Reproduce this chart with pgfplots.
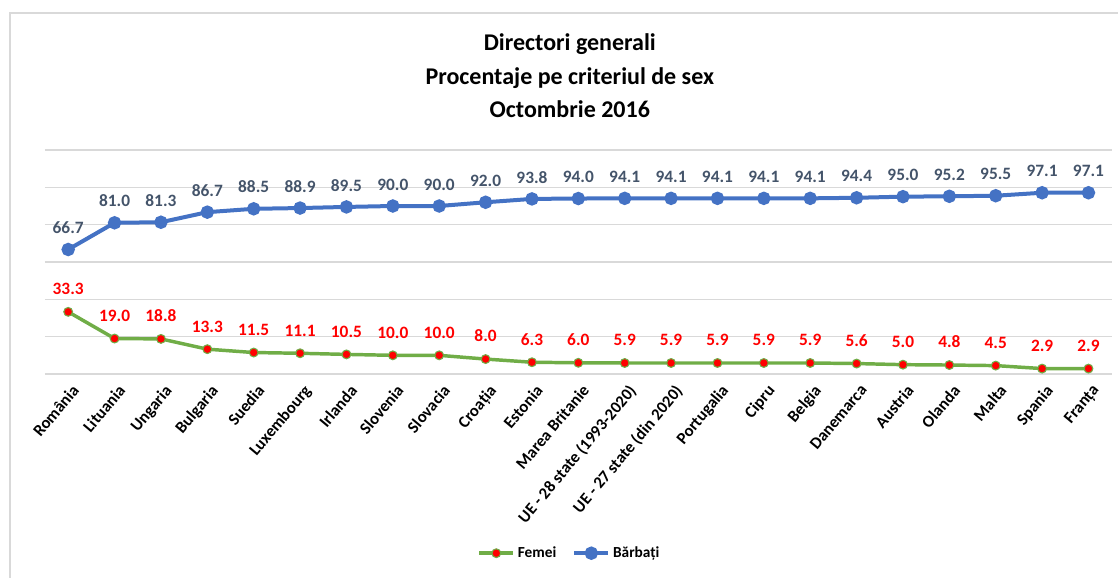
\documentclass[border=0pt]{standalone}
\usepackage{pgfplots}
\pgfplotsset{compat=1.18}
\usepackage{pgfplotstable}
\usepackage{fontspec}
\setmainfont{Carlito}

\definecolor{barbati}{HTML}{4472C4}
\definecolor{femei}{HTML}{70AD47}
\definecolor{lblblue}{HTML}{44546A}
\definecolor{gridc}{HTML}{D9D9D9}

% idx: order of the categories on the x axis
\pgfplotstableread{
idx fem barb
0  33.3 66.7
1  19.0 81.0
2  18.8 81.3
3  13.3 86.7
4  11.5 88.5
5  11.1 88.9
6  10.5 89.5
7  10.0 90.0
8  10.0 90.0
9  8.0  92.0
10 6.3  93.8
11 6.0  94.0
12 5.9  94.1
13 5.9  94.1
14 5.9  94.1
15 5.9  94.1
16 5.9  94.1
17 5.6  94.4
18 5.0  95.0
19 4.8  95.2
20 4.5  95.5
21 2.9  97.1
22 2.9  97.1
}\data

\begin{document}
\begin{tikzpicture}
\path[use as bounding box] (-33.75pt,-153pt) rectangle (804.75pt,280.5pt);
% chart frame
\draw[gridc, line width=0.8pt] (-26.25pt,-153pt) -- (-26.25pt,270.75pt) -- (804.75pt,270.75pt);
\begin{axis}[
    scale only axis,
    width=800pt, height=168pt,
    xmin=-0.5, xmax=22.5,
    ymin=0, ymax=120,
    ytick={0,20,...,120}, yticklabels={},
    ymajorgrids,
    grid style={gridc, line width=0.8pt},
    axis line style={draw=none},
    major tick length=0pt,
    clip=false,
    xtick={0,...,22},
    xticklabels={România,Lituania,Ungaria,Bulgaria,Suedia,Luxembourg,Irlanda,Slovenia,Slovacia,Croația,Estonia,Marea Britanie,UE - 28 state (1993-2020),UE - 27 state (din 2020),Portugalia,Cipru,Belgia,Danemarca,Austria,Olanda,Malta,Spania,Franța},
    x tick label style={rotate=50, anchor=north east, inner sep=1pt,
        xshift=-3pt, yshift=-5pt,
        font=\bfseries\fontsize{12.5}{14}\selectfont},
    title={Directori generali\\Procentaje pe criteriul de sex\\Octombrie 2016},
    title style={at={(0.492,1)}, anchor=south, yshift=18pt, inner sep=0pt,
        align=center, font=\bfseries\fontsize{18}{25}\selectfont},
    legend style={at={(0.492,-0.8)}, anchor=center, draw=none,
        legend columns=2, font=\bfseries\fontsize{11.5}{13}\selectfont,
        /tikz/every even column/.append style={column sep=10pt}},
    legend image code/.code={
        \draw[mark repeat=2, mark phase=2] plot coordinates {(0cm,0cm) (0.45cm,0cm) (0.9cm,0cm)};},
    nodes near coords,
    /pgf/number format/.cd, fixed, fixed zerofill, precision=1, assume math mode=true,
]
\addplot[femei, line width=2.6pt, mark=*, mark size=3.3pt,
    mark options={fill=red, draw=femei, line width=0.8pt},
    every node near coord/.append style={red, yshift=9pt,
        font=\bfseries\fontsize{13}{15}\selectfont}]
    table[x=idx, y=fem] {\data};
\addlegendentry{Femei}
\addplot[barbati, line width=3pt, mark=*, mark size=3.5pt,
    mark options={fill=barbati, draw=barbati},
    every node near coord/.append style={lblblue, yshift=7pt,
        font=\bfseries\fontsize{13}{15}\selectfont}]
    table[x=idx, y=barb] {\data};
\addlegendentry{Bărbați}
\end{axis}
\end{tikzpicture}
\end{document}
